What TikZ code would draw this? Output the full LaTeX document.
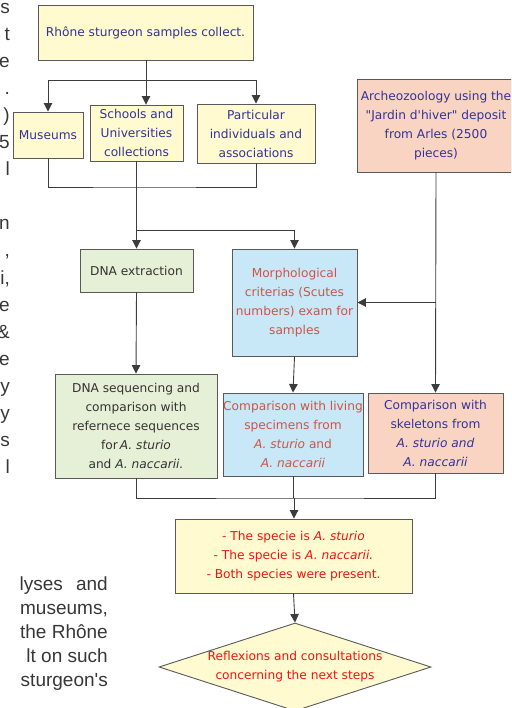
\documentclass[tikz,border=0pt]{standalone}
\usepackage{fontspec}
\setmainfont{DejaVu Sans}
\newfontfamily\pagefont{Liberation Sans}
\usetikzlibrary{arrows.meta,shapes.geometric}
\definecolor{boxyellow}{RGB}{255,250,208}
\definecolor{boxsalmon}{RGB}{250,212,194}
\definecolor{boxgreen}{RGB}{230,240,214}
\definecolor{boxblue}{RGB}{200,232,248}
\definecolor{inkblue}{RGB}{51,51,153}
\definecolor{inkred}{RGB}{204,85,68}
\definecolor{inkbright}{RGB}{240,20,20}
\definecolor{inkgray}{RGB}{51,51,51}
\definecolor{linegray}{RGB}{60,60,60}
\definecolor{pagegray}{RGB}{55,55,55}
\tikzset{>={Triangle[width=8.5pt,length=8.5pt]}}
\tikzset{%
    box/.style={%
        draw=linegray!85, line width=0.9pt, align=center, inner sep=0pt,
        font=\fontsize{12.2}{19}\selectfont
    },
    link/.style={draw=linegray, line width=0.9pt},
    pagetext/.style={anchor=base east, inner sep=0pt, text=pagegray,
        font=\pagefont\fontsize{19}{24}\selectfont}
}

\begin{document}
\begin{tikzpicture}[x=1pt,y=-1pt]
\useasboundingbox (0,0) rectangle (511,708);
\clip (0,0) rectangle (511,708);

% page text cut by the figure
\node[pagetext] (l1) at (10,14) {s};
\node[pagetext] (l2) at (10,41) {t};
\node[pagetext] (l3) at (10,68) {e};
\node[pagetext] (l4) at (10,95) {.};
\node[pagetext] (l5) at (10,122) {)};
\node[pagetext] (l6) at (10,149) {5};
\node[pagetext] (l7) at (10,176) {l};
\node[pagetext] (l8) at (10,230) {n};
\node[pagetext] (l9) at (10,257) {,};
\node[pagetext] (l10) at (10,284) {i,};
\node[pagetext] (l11) at (10,311) {e};
\node[pagetext] (l12) at (10,338) {\&};
\node[pagetext] (l13) at (10,365) {e};
\node[pagetext] (l14) at (10,392) {y};
\node[pagetext] (l15) at (10,419) {y};
\node[pagetext] (l16) at (10,446) {s};
\node[pagetext] (l17) at (10,473) {l};

\node[pagetext] (b1) at (108,590) {lyses\hspace{8pt} and};
\node[pagetext] (b2) at (108,614) {museums,};
\node[pagetext] (b3) at (108,638) {the Rhône};
\node[pagetext] (b4) at (108,662) {lt on such};
\node[pagetext] (b5) at (108,686) {sturgeon\textquotesingle s};

% boxes
\node[box, fill=boxyellow, text=inkblue, minimum width=215, minimum height=55]
    (collect) at (145.5,32.5) {Rhône sturgeon samples collect.};
\node[box, fill=boxyellow, text=inkblue, minimum width=70, minimum height=46]
    (museums) at (48,135) {Museums};
\node[box, fill=boxyellow, text=inkblue, minimum width=93, minimum height=56]
    (schools) at (136.5,133) {Schools and\\Universities\\collections};
\node[box, fill=boxyellow, text=inkblue, minimum width=118, minimum height=59]
    (particular) at (256,133.5) {Particular\\individuals and\\associations};
\node[box, fill=boxsalmon, text=inkblue, minimum width=158, minimum height=93]
    (archeo) at (436,125.5) {Archeozoology using the\\\textquotedbl Jardin d\textquotesingle hiver\textquotedbl{} deposit\\from Arles (2500\\pieces)};
\node[box, fill=boxgreen, text=inkgray, minimum width=113, minimum height=43]
    (dnaext) at (136.5,270.5) {DNA extraction};
\node[box, fill=boxblue, text=inkred, minimum width=125, minimum height=107]
    (morpho) at (294.5,302.5) {Morphological\\criterias (Scutes\\numbers) exam for\\samples};
\node[box, fill=boxgreen, text=inkgray, minimum width=162, minimum height=104]
    (dnaseq) at (136,426) {DNA sequencing and\\comparison with\\refernece sequences\\for\,\textit{A. sturio}\\and \textit{A. naccarii.}};
\node[box, fill=boxblue, text=inkred, minimum width=140, minimum height=83]
    (living) at (293,434.5) {Comparison with living\\specimens from\\\textit{A. sturio} and\\\textit{A. naccarii}};
\node[box, fill=boxsalmon, text=inkblue, minimum width=135, minimum height=80]
    (skeleton) at (435.5,433) {Comparison with\\skeletons from\\\textit{A. sturio and}\\\textit{A. naccarii}};
\node[box, fill=boxyellow, text=inkbright, minimum width=237, minimum height=74]
    (result) at (293.5,556) {- The specie is \textit{A. sturio}\\- The specie is \textit{A. naccarii.}\\- Both species were present.};
\node[box, diamond, aspect=3.09, fill=boxyellow, text=inkbright, minimum width=272, minimum height=88]
    (next) at (295,667) {Reflexions and consultations\\concerning the next steps};

% connectors
\coordinate (split1) at (146,80);
\coordinate (join1) at (137,187);
\coordinate (split2) at (137,230);
\coordinate (join2) at (294,498);

\draw[link] (collect.south -| split1) -- (split1);
\draw[link,->] (split1) -| (museums.north);
\draw[link,->] (split1) -| (particular.north);
\draw[link,->] (split1) -- (schools.north -| split1);

\draw[link] (museums.south) |- (join1) -| (particular.south);
\draw[link,->] (schools.south) -- (dnaext.north);
\draw[link,->] (split2) -| (morpho.north);

\draw[link,->] (archeo.south) -- (skeleton.north);
\draw[link,->] (archeo.south |- morpho.east) -- (morpho.east);

\draw[link,->] (dnaext.south) -- (dnaseq.north);
\draw[link,->] (morpho.south) -- (living.north);

\draw[link] (dnaseq.south) |- (join2) -| (skeleton.south);
\draw[link] (living.south) -- (living.south |- join2);
\draw[link,->] (join2) -- (result.north -| join2);
\draw[link,->] (result.south) -- (next.north);
\end{tikzpicture}
\end{document}
